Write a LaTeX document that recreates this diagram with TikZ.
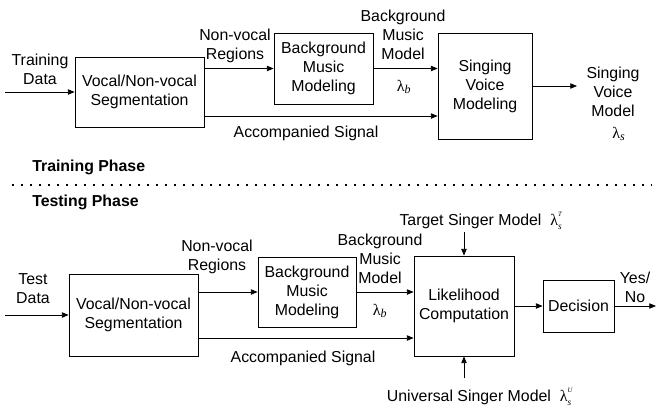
\documentclass[tikz,border=0pt]{standalone}
\usepackage{fontspec}
\setmainfont{Liberation Sans}
\newfontfamily\greekfont{Liberation Serif}
\usetikzlibrary{arrows.meta,positioning}

% one unit of the picture
\newcommand{\px}{0.75pt}
% model symbols
\newcommand{\lamsub}[1]{$\mbox{\greekfont\large λ}_{\mbox{\greekfont\itshape\small #1}}$}
\newcommand{\lamsubsup}[2]{$\mbox{\greekfont\large λ}_{\mbox{\greekfont\itshape\scriptsize #1}}^{\raisebox{1.5pt}{\greekfont\itshape\tiny #2}}$}

\tikzset{
  block/.style={draw, line width=0.6pt, align=center, inner sep=0pt},
  lbl/.style={align=center, inner sep=0pt},
  arr/.style={-{Triangle[length=5pt,width=4pt]}, line width=0.6pt},
  wire/.style={line width=0.6pt},
}

\begin{document}
\begin{tikzpicture}[x=\px, y=-\px, font=\fontsize{11.9}{14.2}\selectfont]
    \useasboundingbox (0,0) rectangle (658,408);

    % training phase
    \node[block, minimum width=129*\px, minimum height=70*\px] (seg1) at (139.5,92) {Vocal/Non-vocal\\Segmentation};
    \node[block, minimum width=99*\px, minimum height=71*\px] (bg1) at (323.5,68.5) {Background\\Music\\Modeling};
    \node[block, minimum width=94*\px, minimum height=106*\px] (svm) at (485,86) {Singing\\Voice\\Modeling};

    \coordinate (in1) at (5,92);
    \coordinate (acc1) at (0,116);
    \coordinate (out1) at (577,86);

    \node[lbl] (trainlbl) at (40,69) {Training\\Data};
    \node[lbl] (nvlbl1) at (235,46) {Non-vocal\\Regions};
    \node[lbl] (bgmlbl1) at (403,35) {Background\\Music\\Model};
    \node[lbl] (lamb1) at (404,87) {\lamsub{b}};
    \node[lbl] (acclbl1) at (306,133) {Accompanied Signal};
    \node[lbl] (svmlbl) at (613,92) {Singing\\Voice\\Model};
    \node[lbl] (lams) at (619,134) {\lamsub{s}};

    \draw[arr] (in1) -- (seg1.west);
    \draw[arr] (seg1.east |- bg1.west) -- (bg1.west);
    \draw[arr] (bg1.east) -- (svm.west |- bg1.east);
    \draw[arr] (seg1.east |- acc1) -- (svm.west |- acc1);
    \draw[arr] (svm.east) -- (out1);

    % phase separator
    \node[lbl, anchor=west, font=\fontsize{11.9}{14.2}\selectfont\bfseries] (trainph) at (32,167) {Training Phase};
    \node[lbl, anchor=west, font=\fontsize{11.9}{14.2}\selectfont\bfseries] (testph) at (32,202) {Testing Phase};
    \draw[line width=1.1pt, dash pattern=on 1.5pt off 5.25pt] (12,185) -- (652,185);

    % testing phase
    \node[block, minimum width=129*\px, minimum height=82*\px] (seg2) at (133.5,315) {Vocal/Non-vocal\\Segmentation};
    \node[block, minimum width=98*\px, minimum height=70*\px] (bg2) at (307,292) {Background\\Music\\Modeling};
    \node[block, minimum width=100*\px, minimum height=100*\px] (lik) at (464,306) {Likelihood\\Computation};
    \node[block, minimum width=71*\px, minimum height=52*\px] (dec) at (578.5,306) {Decision};

    \coordinate (in2) at (5,315);
    \coordinate (acc2) at (0,338);
    \coordinate (out2) at (656,306);
    \coordinate (tgt) at (464,232);
    \coordinate (ubm) at (464,378);

    \node[lbl] (testlbl) at (33,289) {Test\\Data};
    \node[lbl] (nvlbl2) at (217,257) {Non-vocal\\Regions};
    \node[lbl] (bgmlbl2) at (380,259) {Background\\Music\\Model};
    \node[lbl] (lamb2) at (380,311) {\lamsub{b}};
    \node[lbl] (acclbl2) at (303,358) {Accompanied Signal};
    \node[lbl] (tgtlbl) at (481,221) {Target Singer Model\ \ \lamsubsup{s}{T}};
    \node[lbl] (ubmlbl) at (480,397) {Universal Singer Model\ \ \lamsubsup{s}{U}};
    \node[lbl] (yesno) at (635,287) {Yes/\\No};

    \draw[arr] (in2) -- (seg2.west);
    \draw[arr] (seg2.east |- bg2.west) -- (bg2.west);
    \draw[arr] (bg2.east) -- (lik.west |- bg2.east);
    \draw[arr] (seg2.east |- acc2) -- (lik.west |- acc2);
    \draw[arr] (tgt) -- (lik.north);
    \draw[arr] (ubm) -- (lik.south);
    \draw[arr] (lik.east) -- (dec.west);
    \draw[arr] (dec.east) -- (out2);
\end{tikzpicture}
\end{document}
